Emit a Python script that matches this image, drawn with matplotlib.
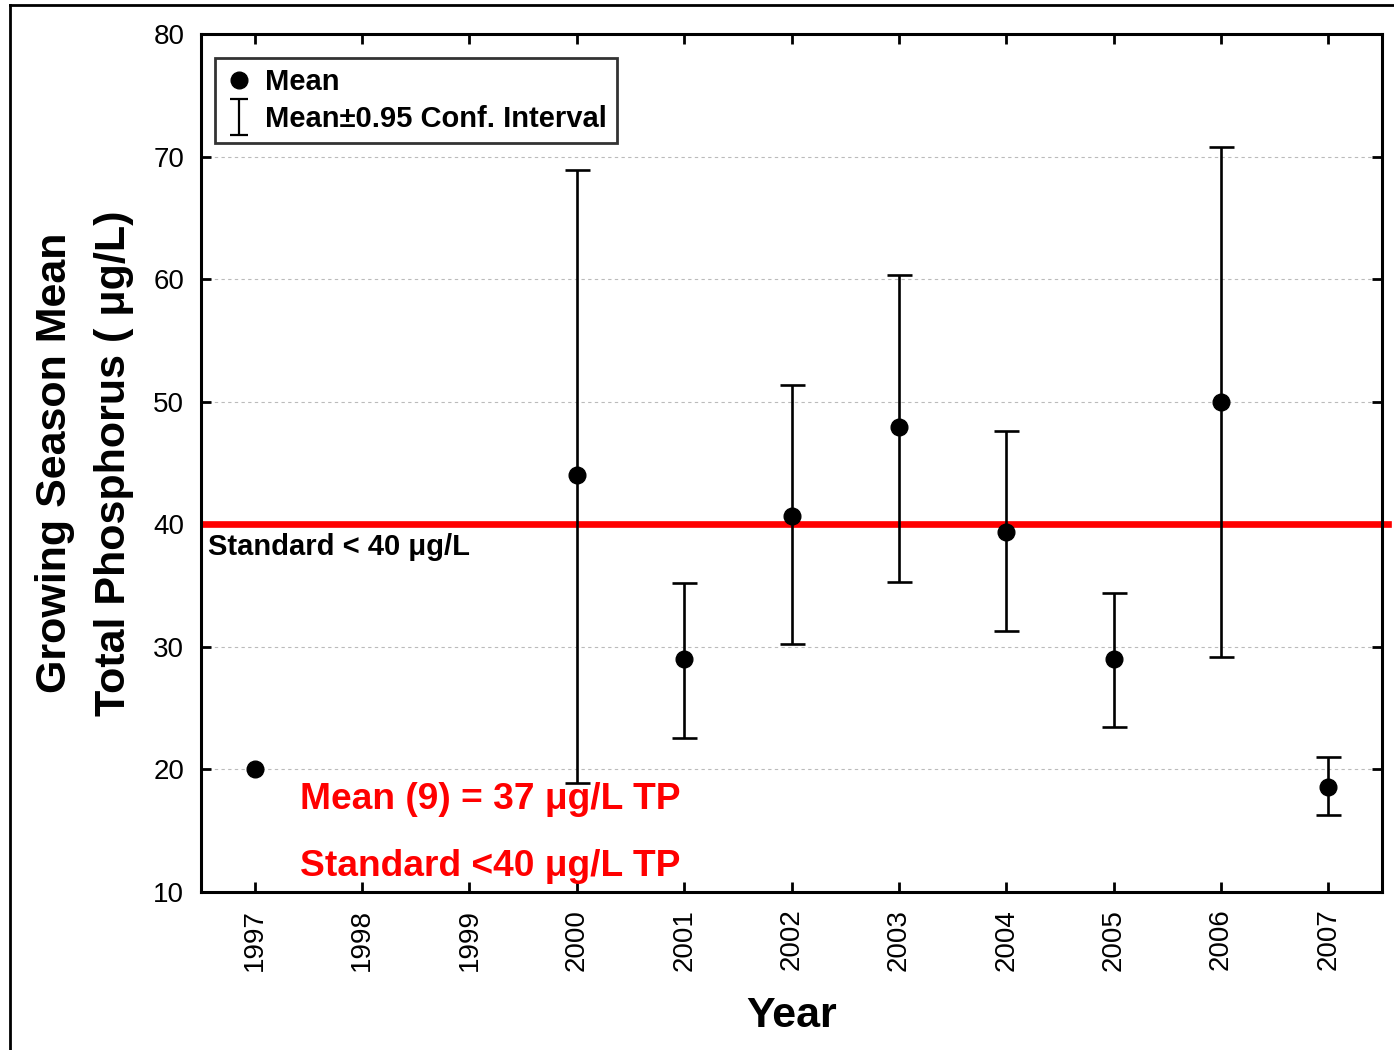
import numpy as np
import matplotlib.pyplot as plt
from matplotlib.lines import Line2D
from matplotlib.path import Path

# growing season mean TP by year, with 0.95 confidence limits
years = [1997, 2000, 2001, 2002, 2003, 2004, 2005, 2006, 2007]
means = [20.0, 44.0, 29.0, 40.7, 47.9, 39.4, 29.0, 50.0, 18.6]
ci_low = [None, 18.9, 22.6, 30.2, 35.3, 31.3, 23.5, 29.2, 16.3]
ci_high = [None, 68.9, 35.2, 51.4, 60.3, 47.6, 34.4, 70.8, 21.0]

tick_years = list(range(1997, 2008))
y_ticks = [10, 20, 30, 40, 50, 60, 70, 80]
standard = 40

plt.rcParams['font.family'] = ['Liberation Sans', 'DejaVu Sans']

fig = plt.figure(figsize=(13.94, 10.5), dpi=100)
ax = fig.add_axes([0.1442, 0.1505, 0.8472, 0.8171])

x = np.array(years, dtype=float)
m = np.array(means)
lo = np.array([np.nan if v is None else v for v in ci_low])
hi = np.array([np.nan if v is None else v for v in ci_high])

ax.axhline(standard, xmin=0.003, xmax=1.005, color='#ff0000', lw=4.8,
           zorder=2, clip_on=False)

ax.errorbar(x, m, yerr=[m - lo, hi - m], fmt='none', ecolor='black',
            elinewidth=1.9, capsize=9, capthick=1.9, zorder=3)
ax.plot(x, m, 'o', color='black', markersize=12, zorder=4)

ax.set_xlim(1996.5, 2007.5)
ax.set_ylim(10, 80)
ax.set_xticks(tick_years)
ax.set_xticklabels([str(v) for v in tick_years], rotation=90)
ax.set_yticks(y_ticks)

for yv in y_ticks[1:-1]:
    ax.axhline(yv, color='#bbbbbb', lw=0.8, ls=(0, (3, 3)), zorder=1)

ax.tick_params(direction='in', length=7, width=2, labelsize=20,
               top=True, right=True, pad=12)
for s in ax.spines.values():
    s.set_linewidth(2.2)

ax.set_xlabel('Year', fontsize=31, fontweight='bold', labelpad=18)
ax.set_ylabel('Growing Season Mean\nTotal Phosphorus ( μg/L)', fontsize=31,
              fontweight='bold', labelpad=14, linespacing=1.6)

ax.text(0.006, 0.402, 'Standard < 40 μg/L', transform=ax.transAxes,
        fontsize=21, fontweight='bold', va='center', ha='left')
ax.text(0.084, 0.108, 'Mean (9) = 37 μg/L TP', transform=ax.transAxes,
        fontsize=26.7, fontweight='bold', color='#ff0000', va='center')
ax.text(0.084, 0.030, 'Standard <40 μg/L TP', transform=ax.transAxes,
        fontsize=26.7, fontweight='bold', color='#ff0000', va='center')

# legend handles: dot and an I-beam for the interval
ibeam = Path([(-0.5, -1), (0.5, -1), (0, -1), (0, 1), (-0.5, 1), (0.5, 1)],
             [Path.MOVETO, Path.LINETO, Path.MOVETO, Path.LINETO,
              Path.MOVETO, Path.LINETO])
h_mean = Line2D([], [], ls='none', marker='o', color='black', markersize=12)
h_ci = Line2D([], [], ls='none', marker=ibeam, markersize=26,
              markeredgecolor='black', markerfacecolor='none',
              markeredgewidth=1.6)
leg = ax.legend([h_mean, h_ci], ['Mean', 'Mean±0.95 Conf. Interval'],
                loc='upper left', bbox_to_anchor=(0.012, 0.972),
                frameon=True, fancybox=False, edgecolor='black',
                prop={'size': 21, 'weight': 'bold'}, handlelength=0.9,
                handletextpad=0.45, borderpad=0.35, labelspacing=0.3,
                borderaxespad=0)
leg.get_frame().set_linewidth(2)

# outer frame
fig.add_artist(Line2D([0.0075, 0.0075], [0, 0.995], color='black', lw=2,
                      transform=fig.transFigure))
fig.add_artist(Line2D([0.0075, 1.0], [0.995, 0.995], color='black', lw=2,
                      transform=fig.transFigure))

fig.savefig('out.png', dpi=100)
